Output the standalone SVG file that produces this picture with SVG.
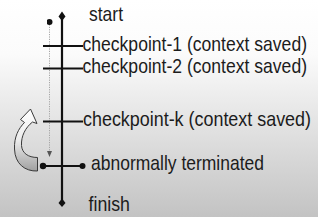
<svg xmlns="http://www.w3.org/2000/svg" width="318" height="217" viewBox="0 0 318 217">
<defs>
<linearGradient id="bg" x1="0" y1="0" x2="0" y2="1">
<stop offset="0" stop-color="#ffffff"/>
<stop offset="0.25" stop-color="#fbfbfb"/>
<stop offset="1" stop-color="#c3c3c3"/>
</linearGradient>
<linearGradient id="arr" x1="0" y1="0" x2="0" y2="1">
<stop offset="0" stop-color="#ffffff"/>
<stop offset="0.5" stop-color="#ececec"/>
<stop offset="1" stop-color="#a0a0a0"/>
</linearGradient>
<marker id="dot" viewBox="0 0 10 10" refX="5" refY="5" markerWidth="6" markerHeight="6" markerUnits="userSpaceOnUse">
<circle cx="5" cy="5" r="5" fill="#111"/>
</marker>
</defs>
<style>
.t{font-family:"Liberation Sans",Arial,sans-serif;font-size:18px;fill:#1c1c1c}
.ln{stroke:#111;stroke-width:2.2;fill:none}
.dm{fill:#111}
</style>
<rect width="318" height="217" fill="url(#bg)"/>

<g id="connectors">
<line class="ln" x1="62" y1="17" x2="62" y2="203" stroke-width="2.6"/>
<line x1="49.5" y1="22" x2="49.5" y2="152" stroke="#a5a5a5" stroke-width="1" stroke-dasharray="1.2,1.2" marker-start="url(#dot)"/>
<path d="M47,151 L52,151 L49.5,157 Z" fill="#555"/>
<path d="M62,11.5 L65.5,16.5 L62,21 L58.5,16.5 Z" class="dm"/>
<path d="M62,198.5 L65.5,203 L62,207 L58.5,203 Z" class="dm"/>
</g>

<g id="start"><text class="t" transform="translate(89,20.5) scale(1,1.15)" textLength="34" lengthAdjust="spacingAndGlyphs">start</text></g>

<g id="checkpoint-1">
<line class="ln" x1="43" y1="46" x2="83" y2="46"/>
<text class="t" transform="translate(82.5,50.5) scale(1,1.15)" textLength="224.5" lengthAdjust="spacingAndGlyphs">checkpoint-1 (context saved)</text>
</g>

<g id="checkpoint-2">
<line class="ln" x1="43" y1="68.5" x2="83" y2="68.5"/>
<text class="t" transform="translate(82.5,73) scale(1,1.15)" textLength="224.5" lengthAdjust="spacingAndGlyphs">checkpoint-2 (context saved)</text>
</g>

<g id="checkpoint-k">
<line class="ln" x1="43" y1="121.5" x2="83" y2="121.5"/>
<text class="t" transform="translate(83,126) scale(1,1.15)" textLength="228" lengthAdjust="spacingAndGlyphs">checkpoint-k (context saved)</text>
</g>

<g id="abnormal">
<line class="ln" x1="43" y1="166" x2="82.5" y2="166"/>
<circle cx="43" cy="166" r="3.2" class="dm"/>
<circle cx="82.5" cy="166" r="3" class="dm"/>
<text class="t" style="font-size:19px" transform="translate(91,170) scale(1,1.1)" textLength="173" lengthAdjust="spacingAndGlyphs">abnormally terminated</text>
</g>

<g id="finish"><text class="t" transform="translate(88.5,211) scale(1,1.15)" textLength="41.5" lengthAdjust="spacingAndGlyphs">finish</text></g>

<g id="rollback-arrow">
<path d="M37.5,157.5 L37.5,171 C25,171.5 15,164 14.5,149 C14,137 18.5,128.5 24.5,122.5 L20.5,119.5 L30.5,109 L37,123.5 L32.5,122 C25.5,127.5 21,136 21.5,145.5 C22,153 28,157.5 37.5,157.5 Z" fill="url(#arr)" stroke="#3a3a3a" stroke-width="1"/>
</g>
</svg>
